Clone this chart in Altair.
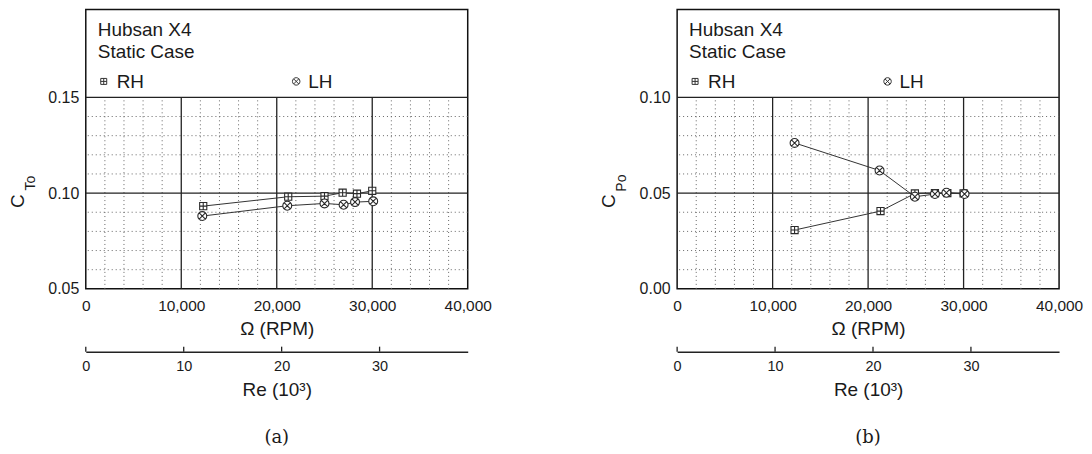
import altair as alt
import pandas as pd

FONT = "Liberation Sans"
SERIF = "DejaVu Serif"

# ---- data ----
series = ["RH", "LH"]

rpm_rh_a = [12300, 21200, 25000, 26900, 28400, 30000]
ct_rh = [0.0932, 0.0981, 0.0984, 0.1002, 0.0997, 0.1012]
rpm_lh_a = [12200, 21100, 25000, 27000, 28200, 30100]
ct_lh = [0.0880, 0.0934, 0.0946, 0.0939, 0.0953, 0.0957]

rpm_rh_b = [12300, 21300, 24900, 27000, 28300, 30000]
cp_rh = [0.0307, 0.0406, 0.0498, 0.0500, 0.0500, 0.0498]
rpm_lh_b = [12300, 21200, 24900, 27000, 28200, 30100]
cp_lh = [0.0762, 0.0618, 0.0481, 0.0495, 0.0502, 0.0495]

x_ticks = [0, 10000, 20000, 30000, 40000]
x_major_grid = [10000, 20000, 30000]
x_minor_grid = [2000, 4000, 6000, 8000, 12000, 14000, 16000, 18000,
                22000, 24000, 26000, 28000, 32000, 34000, 36000, 38000]
re_ticks = [0, 10, 20, 30]

y_ticks_a = [0.05, 0.10, 0.15]
y_major_a = [0.10, 0.15]
y_minor_a = [0.06, 0.07, 0.08, 0.09, 0.11, 0.12, 0.13, 0.14]
y_ticks_b = [0.00, 0.05, 0.10]
y_major_b = [0.05, 0.10]
y_minor_b = [0.01, 0.02, 0.03, 0.04, 0.06, 0.07, 0.08, 0.09]

W = 383
H = 280
RE_OFF = 63

SQ = "M-0.8,-0.8H0.8V0.8H-0.8Z M0,-0.8V0.8 M-0.8,0H0.8"
CX = "M1,0A1,1,0,1,1,-1,0A1,1,0,1,1,1,0Z M-0.7,-0.7L0.7,0.7 M-0.7,0.7L0.7,-0.7"
SHAPES = [SQ, CX]


def panel(rpm_rh, v_rh, rpm_lh, v_lh, lo, top, yticks, ymaj, ymin, sub, cap):
    hi = lo + 0.1 * H / 192.0
    df = pd.DataFrame({
        "rpm": rpm_rh + rpm_lh,
        "v": v_rh + v_lh,
        "s": ["RH"] * len(rpm_rh) + ["LH"] * len(rpm_lh),
    })
    X = alt.X("rpm:Q", scale=alt.Scale(domain=[0, 40000], nice=False, zero=False),
              axis=alt.Axis(values=x_ticks, labelExpr="format(datum.value, ',')",
                            title="Ω (RPM)", grid=False,
                            ticks=False, domain=False, labelFontSize=15.5, labelPadding=10,
                            labelFont=FONT, labelColor="#1a1a1a", labelFlush=False,
                            labelOverlap=False, titleFont=FONT, titleFontSize=19,
                            titleFontWeight="normal", titleColor="#1a1a1a", titlePadding=5))
    Y = alt.Y("v:Q", scale=alt.Scale(domain=[lo, hi], nice=False, zero=False),
              axis=alt.Axis(values=yticks, labelExpr="format(datum.value, '.2f')",
                            title=None, grid=False,
                            ticks=False, domain=False, labelFontSize=16, labelPadding=7,
                            labelFont=FONT, labelColor="#1a1a1a", labelFlush=False,
                            labelOverlap=False))

    vmaj = alt.Chart(pd.DataFrame({"rpm": x_major_grid})).mark_rule(
        color="#222", strokeWidth=1.3).encode(x=X, y=alt.datum(lo), y2=alt.datum(top))
    vmin = alt.Chart(pd.DataFrame({"rpm": x_minor_grid})).mark_rule(
        color="#666", strokeWidth=1, strokeDash=[1, 3]).encode(
        x=X, y=alt.datum(lo), y2=alt.datum(top))
    hmaj = alt.Chart(pd.DataFrame({"v": ymaj})).mark_rule(
        color="#222", strokeWidth=1.3).encode(y=Y)
    hmin = alt.Chart(pd.DataFrame({"v": ymin})).mark_rule(
        color="#666", strokeWidth=1, strokeDash=[1, 3]).encode(y=Y)

    lines = alt.Chart(df).mark_line(color="#333", strokeWidth=1).encode(
        x=X, y=Y, detail="s:N")
    pts = alt.Chart(df).mark_point(filled=False, fill="white", stroke="#2a2a2a",
                                   strokeWidth=1.1, size=80, opacity=1,
                                   fillOpacity=1).encode(
        x=X, y=Y,
        shape=alt.Shape("s:N", scale=alt.Scale(domain=series, range=SHAPES),
                        legend=None))

    one = pd.DataFrame({"a": [0]})

    def txt(t, x, y, size=19, font=FONT, angle=None, align="left", baseline="alphabetic"):
        kw = dict(text=t, font=font, fontSize=size, align=align, baseline=baseline,
                  color="#1a1a1a")
        if angle is not None:
            kw["angle"] = angle
        return alt.Chart(one).mark_text(**kw).encode(x=alt.value(x), y=alt.value(y))

    def sym(shape, x, y):
        return alt.Chart(one).mark_point(shape=shape, filled=False, fill="white",
                                         stroke="#333", strokeWidth=1, size=56,
                                         opacity=1, fillOpacity=1).encode(
            x=alt.value(x), y=alt.value(y))

    texts = [
        txt("Hubsan X4", 12, 26),
        txt("Static Case", 12, 48.5),
        sym(SHAPES[0], 18, 72),
        txt(series[0], 31, 79),
        sym(SHAPES[1], 211, 72),
        txt(series[1], 223, 79),
        txt("C", -68, 192, size=19, angle=270, align="center", baseline="middle"),
        txt(sub, -55, 174, size=14, angle=270, align="center", baseline="middle"),
        txt(cap, W / 2, 430, size=18, font=SERIF, align="center", baseline="middle"),
    ]

    inner = alt.layer(vmin, hmin, vmaj, hmaj, lines, pts, *texts)

    re_layer = alt.Chart(pd.DataFrame({"re": re_ticks})).mark_rule(
        color="#222", strokeWidth=1.3).encode(
        x=alt.X("re:Q", scale=alt.Scale(domain=[0, 39], nice=False, zero=False),
                axis=alt.Axis(orient="bottom", offset=RE_OFF, values=re_ticks,
                              title="Re (10³)", ticks=False, domain=True,
                              domainColor="#222", domainWidth=1.5, grid=False,
                              labelFontSize=14.5, labelPadding=8, labelFont=FONT,
                              labelColor="#1a1a1a", labelFlush=False, labelOverlap=False,
                              titleFont=FONT, titleFontSize=19, titleFontWeight="normal",
                              titleColor="#1a1a1a", titlePadding=7)),
        y=alt.value(H + RE_OFF - 5), y2=alt.value(H + RE_OFF))

    return alt.layer(inner, re_layer).resolve_scale(x="independent").properties(
        width=W, height=H)


pa = panel(rpm_rh_a, ct_rh, rpm_lh_a, ct_lh, 0.05, 0.15, y_ticks_a, y_major_a,
           y_minor_a, "To", "(a)")
pb = panel(rpm_rh_b, cp_rh, rpm_lh_b, cp_lh, 0.0, 0.10, y_ticks_b, y_major_b,
           y_minor_b, "Po", "(b)")

chart = alt.hconcat(pa, pb, spacing=107).resolve_scale(shape="independent").properties(
    padding={"left": 0, "top": 0, "right": 0, "bottom": 0}
).configure_view(stroke="#111", strokeWidth=1.5)

chart.save("out.html", embed_options={"renderer": "svg", "actions": False})
